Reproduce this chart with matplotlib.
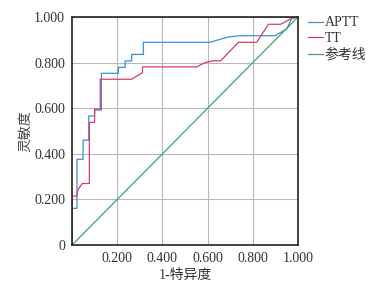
import matplotlib
matplotlib.use('Agg')
import matplotlib.pyplot as plt

# Schrift: Zahlen in Serif, Chinesisch ueber Fallback
plt.rcParams['font.family'] = ['Liberation Serif', 'Noto Sans CJK SC']
plt.rcParams['axes.unicode_minus'] = False

# ROC-Daten
aptt_fpr = [0, 0, 0.022, 0.022, 0.049, 0.049, 0.074, 0.074, 0.100, 0.100, 0.130, 0.130,
            0.205, 0.205, 0.235, 0.235, 0.264, 0.264, 0.316, 0.316, 0.610, 0.690, 0.743,
            0.898, 0.950, 0.972, 1.0]
aptt_tpr = [0, 0.161, 0.161, 0.376, 0.376, 0.460, 0.460, 0.566, 0.566, 0.592, 0.592, 0.753,
            0.753, 0.779, 0.779, 0.807, 0.807, 0.836, 0.836, 0.889, 0.889, 0.912, 0.918,
            0.918, 0.947, 0.994, 1.0]

tt_fpr = [0, 0, 0.022, 0.025, 0.045, 0.077, 0.077, 0.100, 0.100, 0.125, 0.125, 0.264,
          0.312, 0.312, 0.552, 0.588, 0.625, 0.658, 0.736, 0.817, 0.869, 0.923, 0.972, 1.0]
tt_tpr = [0, 0.215, 0.215, 0.240, 0.270, 0.270, 0.538, 0.538, 0.596, 0.596, 0.727, 0.727,
          0.756, 0.781, 0.781, 0.800, 0.808, 0.808, 0.889, 0.889, 0.968, 0.968, 0.994, 1.0]

ref_line = [0, 1]

x_ticks = [0.2, 0.4, 0.6, 0.8, 1.0]
x_labels = ['0.200', '0.400', '0.600', '0.800', '1.000']
y_ticks = [0, 0.2, 0.4, 0.6, 0.8, 1.0]
y_labels = ['0', '0.200', '0.400', '0.600', '0.800', '1.000']

fig = plt.figure(figsize=(3.73, 2.83), dpi=100)
ax = fig.add_axes([0.193, 0.134, 0.606, 0.806])

ax.plot(aptt_fpr, aptt_tpr, color='#3d8fd6', lw=0.9, label='APTT')
ax.plot(tt_fpr, tt_tpr, color='#d83c68', lw=0.9, label='TT')
ax.plot(ref_line, ref_line, color='#3fa36a', lw=0.9, label='参考线')

ax.set_xlim(0, 1)
ax.set_ylim(0, 1)
ax.set_xticks(x_ticks)
ax.set_xticklabels(x_labels)
ax.set_yticks(y_ticks)
ax.set_yticklabels(y_labels)
ax.tick_params(length=0, labelsize=10, colors='#333333', pad=5)
ax.grid(True, color='#b8b8b8', lw=0.8)
ax.set_axisbelow(True)
for s in ax.spines.values():
    s.set_color('#222222')
    s.set_linewidth(1.2)

ax.set_xlabel('1-特异度', fontsize=10, color='#333333', labelpad=3)
ax.set_ylabel('灵敏度', fontsize=10, color='#444444', labelpad=1)

ax.legend(loc='upper left', bbox_to_anchor=(1.0, 1.045), frameon=False, fontsize=10,
          handlelength=1.1, handletextpad=0.1, borderaxespad=0.3, labelspacing=0.2,
          labelcolor='#333333')

fig.savefig('out.png', dpi=100)
